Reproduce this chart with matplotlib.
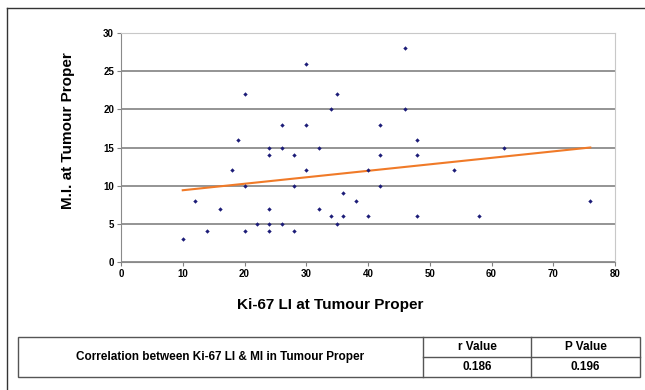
import matplotlib.pyplot as plt
from matplotlib.lines import Line2D
from matplotlib.patches import Rectangle

plt.rcParams['font.family'] = ['Liberation Sans', 'DejaVu Sans']

# Ki-67 LI vs M.I. (tumour proper)
ki67 = [10, 12, 14, 16, 18, 19, 20, 20, 20, 22, 24, 24, 24, 24, 24,
        26, 26, 26, 28, 28, 28, 30, 30, 30, 32, 32, 34, 34, 35, 35,
        36, 36, 38, 40, 40, 42, 42, 42, 46, 46, 48, 48, 48, 54, 58, 62, 76]
mi = [3, 8, 4, 7, 12, 16, 22, 10, 4, 5, 15, 14, 7, 5, 4,
      18, 15, 5, 14, 10, 4, 26, 18, 12, 15, 7, 20, 6, 22, 5,
      9, 6, 8, 12, 6, 18, 14, 10, 28, 20, 16, 14, 6, 12, 6, 15, 8]

trend_x = [10, 76]
trend_y = [9.4, 15.0]

xticks = [0, 10, 20, 30, 40, 50, 60, 70, 80]
yticks = [0, 5, 10, 15, 20, 25, 30]

table_title = "Correlation between Ki-67 LI & MI in Tumour Proper"
table_heads = ["r Value", "P Value"]
table_vals = ["0.186", "0.196"]

fig = plt.figure(figsize=(6.45, 3.9), dpi=100)
W, H = 645, 390

def fx(px):
    return px / W

def fy(py):
    return 1 - py / H

ax = fig.add_axes([fx(121), fy(262), fx(615) - fx(121), fy(33) - fy(262)])
ax.scatter(ki67, mi, marker='D', s=5, color='#1c1c78', zorder=3, linewidths=0)
ax.plot(trend_x, trend_y, color='#f07a28', lw=1.5, zorder=2)

ax.set_xlim(0, 80)
ax.set_ylim(0, 30)
ax.set_xticks(xticks)
ax.set_yticks(yticks)
ax.tick_params(labelsize=7, length=3, color='#808080', pad=2)
for lab in ax.get_xticklabels() + ax.get_yticklabels():
    lab.set_fontweight('bold')
ax.yaxis.grid(True, color='#777777', lw=1.1)
ax.set_axisbelow(True)
for s in ['left', 'bottom']:
    ax.spines[s].set_color('#8a8a8a')
for s in ['top', 'right']:
    ax.spines[s].set_color('#c8c8c8')

fig.text(fx(330), fy(305), "Ki-67 LI at Tumour Proper", ha='center', va='center',
         fontsize=11, fontweight='bold')
fig.text(fx(68), fy(131), "M.I. at Tumour Proper", ha='center', va='center',
         rotation=90, fontsize=11, fontweight='bold')

# outer frame
fig.add_artist(Line2D([fx(7), fx(7)], [fy(8), 0], color='#333333', lw=1))
fig.add_artist(Line2D([fx(7), 1], [fy(8), fy(8)], color='#333333', lw=1))

# table
tl, tr, tt, tm, tb = 18, 640, 337, 357, 377
c1, c2 = 423, 531
lc = '#555555'
fig.add_artist(Rectangle((fx(tl), fy(tb)), fx(tr) - fx(tl), fy(tt) - fy(tb),
                         fill=False, edgecolor=lc, lw=1))
fig.add_artist(Line2D([fx(c1), fx(c1)], [fy(tt), fy(tb)], color=lc, lw=1))
fig.add_artist(Line2D([fx(c2), fx(c2)], [fy(tt), fy(tb)], color=lc, lw=1))
fig.add_artist(Line2D([fx(c1), fx(tr)], [fy(tm), fy(tm)], color=lc, lw=1))

fig.text(fx((tl + c1) / 2), fy((tt + tb) / 2), table_title, ha='center', va='center',
         fontsize=8.5, fontweight='bold')
cols = [(c1 + c2) / 2, (c2 + tr) / 2]
for cx, head, val in zip(cols, table_heads, table_vals):
    fig.text(fx(cx), fy((tt + tm) / 2), head, ha='center', va='center',
             fontsize=8.5, fontweight='bold')
    fig.text(fx(cx), fy((tm + tb) / 2), val, ha='center', va='center',
             fontsize=8.5, fontweight='bold')

fig.savefig('out.png', dpi=100)
